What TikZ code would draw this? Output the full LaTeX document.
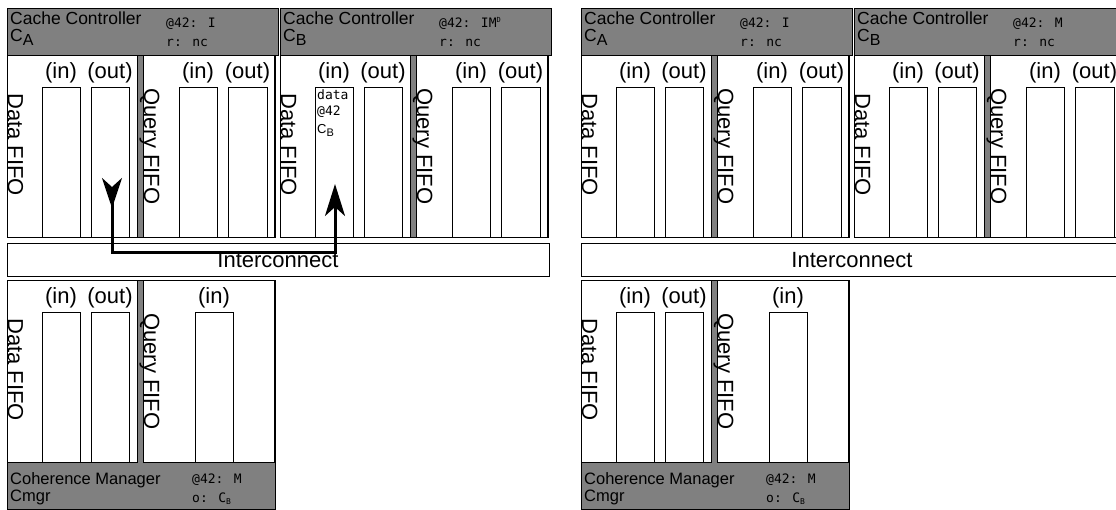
\documentclass[tikz,border=0pt]{standalone}
\usepackage{fontspec}
\setmainfont{Liberation Sans}
\newfontfamily\monof{DejaVu Sans Mono}
\usetikzlibrary{arrows.meta}
\tikzset{
 box/.style={draw=black, line width=0.8pt, inner sep=0pt, outer sep=0pt, anchor=north west},
 graybox/.style={box, fill=gray},
 panel/.style={box, fill=white, minimum height=182pt},
 slot/.style={box, fill=white, line width=0.6pt, minimum width=38pt, minimum height=150pt},
 lbl/.style={font=\fontsize{22}{22}\selectfont, inner sep=0pt, anchor=base},
 fifo/.style={font=\fontsize{22}{22}\selectfont, inner sep=0pt, anchor=base west, rotate=-90},
 ttl/.style={font=\fontsize{17.5}{17.5}\selectfont, inner sep=0pt, anchor=base west},
 ftl/.style={font=\fontsize{16.5}{16.5}\selectfont, inner sep=0pt, anchor=base west},
 mono/.style={font=\monof\fontsize{13}{13}\selectfont, inner sep=0pt, anchor=base west},
 flow/.style={line width=3pt, {Stealth[reversed,length=30pt,width=20pt,inset=9pt]}-{Stealth[length=32pt,width=20pt,inset=9pt]}},
}
% #1 name prefix, #2 x offset, #3 letter, #4 state
\newcommand\ctrlbox[4]{%
 \node[graybox, minimum width=268pt, minimum height=229pt] (#1) at (#2+7,8) {};
 \node[graybox, minimum width=271pt, minimum height=47pt] (#1h) at (#2+7,8) {};
 \node[panel, minimum width=130pt] (#1dp) at (#2+7,55) {};
 \node[panel, minimum width=131pt] (#1qp) at (#2+143,55) {};
 \node[slot] (#1di) at (#2+42,87) {};
 \node[slot] (#1do) at (#2+91,87) {};
 \node[slot] (#1qi) at (#2+179,87) {};
 \node[slot, minimum width=39pt] (#1qo) at (#2+228,87) {};
 \node[ttl] (#1t1) at (#2+10,25) {Cache Controller};
 \node[ttl] (#1t2) at (#2+10,42) {C\raisebox{-4pt}{\fontsize{16}{16}\selectfont #3}};
 \node[mono] (#1m1) at (#2+166,28) {#4};
 \node[mono] (#1m2) at (#2+166,47) {r: nc};
 \node[lbl] (#1l1) at (#2+61,79) {(in)};
 \node[lbl] (#1l2) at (#2+110,79) {(out)};
 \node[lbl] (#1l3) at (#2+198,79) {(in)};
 \node[lbl] (#1l4) at (#2+247.5,79) {(out)};
 \node[fifo] (#1f1) at (#2+8,93) {Data FIFO};
 \node[fifo] (#1f2) at (#2+144,88) {Query FIFO};
}
% #1 prefix, #2 x offset
\newcommand\mgrbox[2]{%
 \node[graybox, minimum width=268pt, minimum height=229pt] (#1) at (#2+7,280) {};
 \node[panel, minimum width=130pt] (#1dp) at (#2+7,280) {};
 \node[panel, minimum width=131pt] (#1qp) at (#2+143,280) {};
 \node[slot] (#1di) at (#2+42,312) {};
 \node[slot] (#1do) at (#2+91,312) {};
 \node[slot] (#1qi) at (#2+195,312) {};
 \node[lbl] (#1l1) at (#2+61,304) {(in)};
 \node[lbl] (#1l2) at (#2+110,304) {(out)};
 \node[lbl] (#1l3) at (#2+214,304) {(in)};
 \node[fifo] (#1f1) at (#2+8,318) {Data FIFO};
 \node[fifo] (#1f2) at (#2+144,313) {Query FIFO};
 \node[ftl] (#1t1) at (#2+10,484) {Coherence Manager};
 \node[ftl] (#1t2) at (#2+10,501.5) {Cmgr};
 \node[mono] (#1m1) at (#2+192,483) {@42: M};
 \node[mono] (#1m2) at (#2+192,502) {o: C\raisebox{-2pt}{\fontsize{8}{8}\selectfont B}};
}
\newcommand\icbox[2]{%
 \node[box, fill=white, minimum width=542pt, minimum height=33pt] (#1) at (#2+7,243) {};
 \node[lbl] (#1t) at (#2+278,268) {Interconnect};
}
\begin{document}
\begin{tikzpicture}[x=1pt,y=-1pt]
\useasboundingbox (0,0) rectangle (1116,510);
\clip (0,0) rectangle (1116,510);
% left half
\ctrlbox{LA}{0}{A}{@42: I}
\ctrlbox{LB}{273}{B}{@42: IM\raisebox{5pt}{\fontsize{7}{7}\selectfont D}}
\node[mono] (LBd1) at (317,100) {data};
\node[mono] (LBd2) at (317,116) {@42};
\node[ttl, font=\fontsize{13}{13}\selectfont] (LBd3) at (317,134) {C\raisebox{-3pt}{\fontsize{11}{11}\selectfont B}};
\icbox{LIC}{0}
\mgrbox{LM}{0}
\coordinate (src) at (112,178);
\coordinate (c1) at (112,253);
\coordinate (c2) at (335,253);
\coordinate (dst) at (335,184);
\draw[flow] (src) -- (c1) -- (c2) -- (dst);
% right half
\ctrlbox{RA}{574}{A}{@42: I}
\ctrlbox{RB}{847}{B}{@42: M}
\icbox{RIC}{574}
\mgrbox{RM}{574}
\end{tikzpicture}
\end{document}
